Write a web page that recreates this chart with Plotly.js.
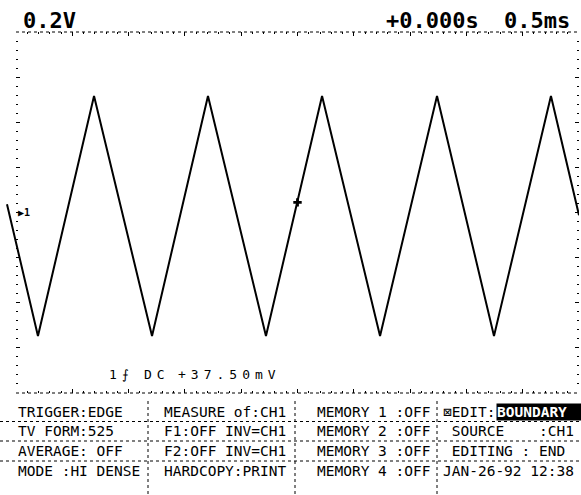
<!DOCTYPE html>
<html><head><meta charset="utf-8">
<script src="https://cdn.plot.ly/plotly-3.0.1.min.js"></script>
<style>html,body{margin:0;padding:0;background:#fff}#chart{width:581px;height:495px}</style>
</head><body><div id="chart"></div>
<script>
const vertexTimeMs = [-2.58, -2.305, -1.807, -1.292, -0.795, -0.280, 0.218, 0.733, 1.239, 1.745, 2.251, 2.5];
const vertexVolts  = [0.037, -0.547, 0.516, -0.547, 0.516, -0.547, 0.516, -0.547, 0.516, -0.547, 0.516, -0.012];
const triggerTimeMs = [0];
const triggerLevelV = [0.045];
const headerLeft = "0.2V";
const headerDelay = "+0.000s";
const headerTimebase = "0.5ms";
const statusChannel = "1\u2A0D";
const statusCoupling = "DC";
const statusLevel = "+37.50mV";
const tableCol1 = ["TRIGGER:EDGE", "TV FORM:525", "AVERAGE: OFF", "MODE :HI DENSE"];
const tableCol2 = ["MEASURE of:CH1", "F1:OFF INV=CH1", "F2:OFF INV=CH1", "HARDCOPY:PRINT"];
const tableCol3 = ["MEMORY 1 :OFF", "MEMORY 2 :OFF", "MEMORY 3 :OFF", "MEMORY 4 :OFF"];
const tableCol4 = ["\u22A0EDIT:", " SOURCE    :CH1", " EDITING : END", "JAN-26-92 12:38"];
const editValue = "BOUNDARY";

// ---- layout helpers (pixel -> paper) ----
const W = 581, H = 495;
const px = x => x / W;
const py = y => 1 - y / H;
const gTop = 32, gBot = 393, gLeft = 16, gRight = 579, traceLeft = 6;

const headFont = {family: "DejaVu Sans Mono", size: 22, color: "#000", weight: "bold"};
const tblFont = {family: "DejaVu Sans Mono", size: 14.5, color: "#000"};
const statFont = {family: "DejaVu Sans Mono", size: 13, color: "#000"};

const rowY = [412, 431, 451, 471];
const colX = [16, 162, 315, 441];
const sepX = [148, 295, 437];

const annotations = [];
function addText(text, x, y, font, extra) {
  annotations.push(Object.assign({text: text, x: px(x), y: py(y), xref: "paper", yref: "paper",
    xanchor: "left", yanchor: "middle", showarrow: false, font: font}, extra || {}));
}
const spaced = s => '<span style="letter-spacing:5px">' + s + '</span>';
addText(headerLeft, 21, 20, headFont);
addText(headerDelay, 384, 20, headFont);
addText(headerTimebase, 502, 20, headFont);
addText(spaced(statusChannel), 107, 374, statFont);
addText(spaced(statusCoupling), 142, 374, statFont);
addText(spaced(statusLevel), 176, 374, statFont);
[tableCol1, tableCol2, tableCol3, tableCol4].forEach((col, c) => {
  col.forEach((t, r) => addText(t, colX[c], rowY[r], tblFont));
});
addText(editValue, 496, rowY[0], {family: "DejaVu Sans Mono", size: 14.5, color: "#fff", weight: "bold"},
  {bgcolor: "#000", borderpad: 0, width: 100, align: "left"});
// channel-1 ground marker at 0 V
annotations.push({text: "<b>\u25B6</b>1", x: -2.5, y: 0, xref: "x", yref: "y", xanchor: "left", yanchor: "middle",
  showarrow: false, font: {family: "DejaVu Sans Mono", size: 10, color: "#000", weight: "bold"}});

const shapes = [];
function dotted(x0, y0, x1, y1) {
  shapes.push({type: "line", xref: "paper", yref: "paper", x0: px(x0), y0: py(y0), x1: px(x1), y1: py(y1),
    line: {color: "#000", width: 1, dash: "dot"}});
}
dotted(gLeft, gTop, gRight, gTop);
dotted(gLeft, gBot, gRight, gBot);
for (let r = 0; r < 3; r++) dotted(0, (rowY[r] + rowY[r + 1]) / 2, W, (rowY[r] + rowY[r + 1]) / 2);
sepX.forEach(x => dotted(x, gBot + 8, x, H));

const tickAxis = {showline: false, showgrid: false, zeroline: false, showticklabels: false,
  ticks: "inside", mirror: "ticks", tickcolor: "#000", tickwidth: 1, fixedrange: true};

const layout = {
  width: W, height: H, margin: {l: 0, r: 0, t: 0, b: 0},
  paper_bgcolor: "#fff", plot_bgcolor: "rgba(0,0,0,0)", showlegend: false,
  xaxis: Object.assign({}, tickAxis, {domain: [px(gLeft), px(gRight)], range: [-2.5, 2.5], anchor: "y",
    tick0: 0, dtick: 0.5, ticklen: 4, minor: {ticks: "inside", dtick: 0.1, ticklen: 2, tickcolor: "#000"}}),
  yaxis: Object.assign({}, tickAxis, {domain: [py(gBot), py(gTop)], range: [-0.8, 0.8], anchor: "x",
    tick0: 0, dtick: 0.2, ticklen: 4, minor: {ticks: "inside", dtick: 0.04, ticklen: 2, tickcolor: "#000"}}),
  xaxis2: {domain: [px(traceLeft), px(gRight)], range: [-2.5 - (gLeft - traceLeft) * 5 / (gRight - gLeft), 2.5],
    anchor: "y2", visible: false, fixedrange: true},
  yaxis2: {domain: [py(gBot), py(gTop)], range: [-0.8, 0.8], anchor: "x2", visible: false, fixedrange: true},
  annotations: annotations, shapes: shapes
};

const traces = [
  {x: vertexTimeMs, y: vertexVolts, xaxis: "x2", yaxis: "y2", type: "scatter", mode: "lines",
   line: {color: "#000", width: 2}, hoverinfo: "skip"},
  {x: triggerTimeMs, y: triggerLevelV, xaxis: "x", yaxis: "y", type: "scatter", mode: "markers",
   marker: {symbol: "cross", size: 7, color: "#000"}, hoverinfo: "skip"}
];
Plotly.newPlot("chart", traces, layout, {displayModeBar: false, staticPlot: true});
</script></body></html>
